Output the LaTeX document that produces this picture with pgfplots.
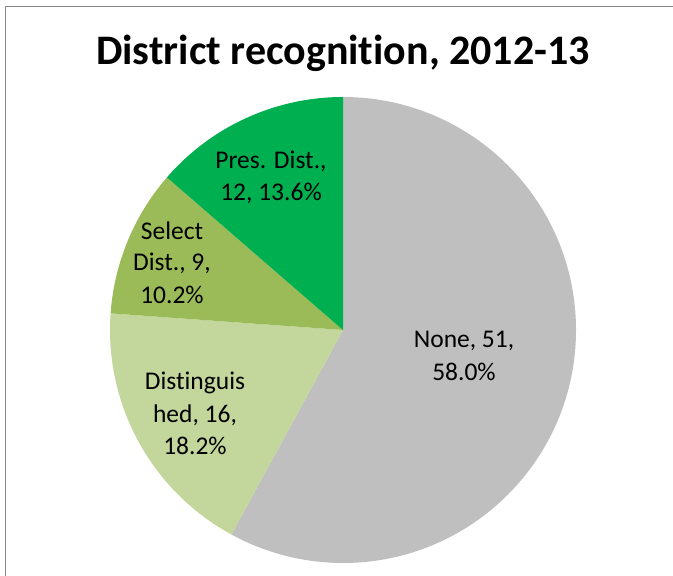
\documentclass[border=0pt]{standalone}
\usepackage{pgfplots}
\pgfplotsset{compat=1.18}
\usepackage{pgfplotstable}
\usepackage{fontspec}
\setmainfont[Ligatures=NoCommon]{Carlito}
\definecolor{cNone}{HTML}{BFBFBF}
\definecolor{cDist}{HTML}{C3D69B}
\definecolor{cSel}{HTML}{9BBB59}
\definecolor{cPres}{HTML}{00B050}
\definecolor{cFrame}{HTML}{898989}

\pgfplotstableread{
label value col
None 51 cNone
Distinguished 16 cDist
Select 9 cSel
Pres 12 cPres
}\piedata

\begin{document}
\begin{tikzpicture}
\begin{axis}[width=673bp,height=576bp,scale only axis,hide axis,
  xmin=0,xmax=673,ymin=0,ymax=576,clip=false]
\pgfplotstablegetrowsof{\piedata}
\pgfmathtruncatemacro{\nrows}{\pgfplotsretval-1}
\def\total{0}
\pgfplotsforeachungrouped \i in {0,...,\nrows}{%
  \pgfplotstablegetelem{\i}{value}\of{\piedata}%
  \pgfmathsetmacro{\total}{\total+\pgfplotsretval}%
}
\def\startangle{90}
\pgfplotsforeachungrouped \i in {0,...,\nrows}{%
  \pgfplotstablegetelem{\i}{value}\of{\piedata}\let\val=\pgfplotsretval
  \pgfplotstablegetelem{\i}{col}\of{\piedata}\let\col=\pgfplotsretval
  \pgfmathsetmacro{\endangle}{\startangle-360/\total*\val}%
  \edef\temp{\noexpand\fill[\col] (axis cs:343,246) -- ++(\startangle:233bp) arc[start angle=\startangle,end angle=\endangle,radius=233bp] -- cycle;}%
  \temp
  \let\startangle=\endangle
}
% frame
\draw[cFrame,line width=1.5bp] (axis cs:5.5,0) -- (axis cs:5.5,569.5) -- (axis cs:673,569.5);
% title
\node[anchor=base,font=\fontsize{42bp}{50bp}\selectfont\bfseries] at (axis cs:343,511) {District recognition, 2012-13};
% labels
\begin{scope}[every node/.style={anchor=base,font=\fontsize{25.5bp}{30bp}\selectfont}]
\node at (axis cs:464,228.3) {None, 51,};
\node at (axis cs:464,195) {58.0\%};
\node at (axis cs:195,186.7) {Distinguis};
\node at (axis cs:195,153.3) {hed, 16,};
\node at (axis cs:195,121.7) {18.2\%};
\node at (axis cs:172,336.7) {Select};
\node at (axis cs:172,305) {Dist., 9,};
\node at (axis cs:172,272.7) {10.2\%};
\node at (axis cs:271,407.7) {Pres. Dist.,};
\node at (axis cs:271,375) {12, 13.6\%};
\end{scope}
\end{axis}
\pgfresetboundingbox
\path[use as bounding box] (current axis.south west) rectangle (current axis.north east);
\end{tikzpicture}
\end{document}
